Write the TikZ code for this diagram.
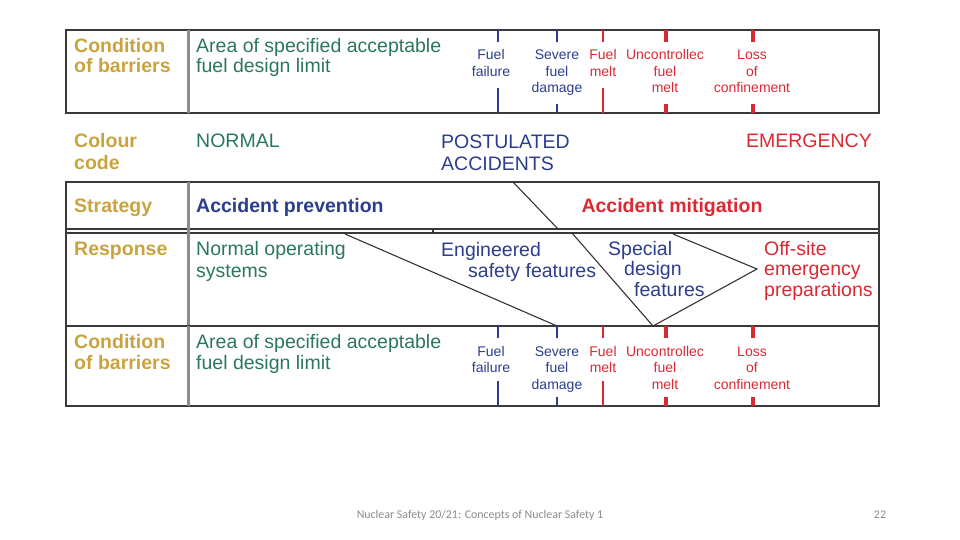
\documentclass[tikz,border=0pt]{standalone}
\usepackage{fontspec}
\setmainfont{Liberation Sans}
\newfontfamily\footfont{Carlito}
\usetikzlibrary{positioning}
\definecolor{nsgold}{HTML}{C9A43E}
\definecolor{nsgreen}{HTML}{2A785A}
\definecolor{nsblue}{HTML}{2B3D8C}
\definecolor{nsred}{HTML}{DC2832}
\definecolor{nsframe}{HTML}{3A3A3A}
\definecolor{nsdivider}{HTML}{8C8C8C}
\definecolor{nsfoot}{HTML}{8A8A8A}
\tikzset{
  rowlabel/.style={anchor=base west,inner sep=0pt,align=left,text=nsgold,font=\bfseries\fontsize{19.5}{20.5}\selectfont},
  celltext/.style={anchor=base west,inner sep=0pt,align=left,font=\fontsize{19.5}{20.5}\selectfont},
  boldtext/.style={celltext,font=\bfseries\fontsize{19.5}{20.5}\selectfont},
  ticklabel/.style={anchor=base,inner sep=0pt,align=center,font=\fontsize{14}{16.5}\selectfont},
  frame/.style={draw=nsframe,line width=1.8pt},
  thinrule/.style={draw=nsframe,line width=1.4pt},
  divider/.style={draw=nsdivider,line width=3pt},
  wedge/.style={draw=black!80,line width=1.1pt},
  footer/.style={inner sep=0pt,text=nsfoot,font=\footfont\fontsize{11.9}{13}\selectfont}
}
\begin{document}
\begin{tikzpicture}[x=1pt,y=-1pt]
\useasboundingbox (0,0) rectangle (960,540);
\draw[frame] (66,182) rectangle (879,406);
\draw[thinrule] (66,229) -- (879,229);
\draw[thinrule] (66,233) -- (879,233);
\draw[thinrule] (433,229) -- (433,233);
\draw[thinrule] (66,326) -- (879,326);
\draw[divider] (188,182) -- (188,406);
\foreach \t/\b/\n in {30/113/top,326/406/bot}{
  \draw[frame] (66,\t) rectangle (879,\b);
  \draw[divider] (188,\t) -- (188,\b);
  \foreach \x/\col/\w/\lo in {498/nsblue/1.5/25,557/nsblue/1.5/9,603/nsred/2.5/25,666/nsred/4/9,753/nsred/4/9}{
    \draw[draw=\col,line width=\w pt] (\x,\t) -- (\x,\t+12);
    \draw[draw=\col,line width=\w pt] (\x,\b-\lo) -- (\x,\b);
  }
  \node[rowlabel] (cond\n) at (74,\t+43) {Condition\\of barriers};
  \node[celltext,text=nsgreen] (area\n) at (196,\t+43) {Area of specified acceptable\\fuel design limit};
  \node[ticklabel,text=nsblue] (failure\n) at (491,\t+46.5) {Fuel\\failure};
  \node[ticklabel,text=nsblue] (damage\n) at (557,\t+63) {Severe\\fuel\\damage};
  \node[ticklabel,text=nsred] (melt\n) at (603,\t+46.5) {Fuel\\melt};
  \node[ticklabel,text=nsred] (uncmelt\n) at (665,\t+63) {Uncontrollec\\fuel\\melt};
  \node[ticklabel,text=nsred] (confine\n) at (752,\t+63) {Loss\\of\\confinement};
}
\node[rowlabel] (colour) at (74,170) {Colour\\[1.5pt]code};
\node[celltext,text=nsgreen] (normal) at (196,148) {NORMAL};
\node[celltext,text=nsblue] (postulated) at (441,171) {POSTULATED\\[1.5pt]ACCIDENTS};
\node[celltext,anchor=base east,text=nsred] (emergency) at (872,148) {EMERGENCY};
\node[rowlabel] (strategy) at (74,212) {Strategy};
\node[boldtext,text=nsblue] (prevention) at (196,212) {Accident prevention};
\node[boldtext,anchor=base,text=nsred] (mitigation) at (672,212) {Accident mitigation};
\node[rowlabel] (response) at (74,255) {Response};
\node[celltext,text=nsgreen] (normalsys) at (196,277) {Normal operating\\[1.5pt]systems};
\node[celltext,text=nsblue] (engineered) at (441,277) {Engineered\\\hspace*{27pt}safety features};
\node[celltext,text=nsblue] (special) at (608,296) {Special\\\hspace*{16pt}design\\\hspace*{26pt}features};
\node[celltext,text=nsred] (offsite) at (764,296) {Off-site\\emergency\\preparations};
\coordinate (splittop) at (513,182);
\coordinate (splitmid) at (558,229);
\coordinate (splitlow) at (572,233);
\coordinate (specialtip) at (653,326);
\coordinate (normaltop) at (345,234);
\coordinate (engtip) at (557,326);
\coordinate (offtop) at (673,234);
\coordinate (offtip) at (757,269);
\draw[wedge] (splittop) -- (splitmid);
\draw[wedge] (splitlow) -- (specialtip);
\draw[wedge] (normaltop) -- (engtip);
\draw[wedge] (offtop) -- (offtip) -- (specialtip);
\node[footer] (foottext) at (480,515) {Nuclear Safety 20/21: Concepts of Nuclear Safety 1};
\node[footer] (pagenum) at (880,515) {22};
\end{tikzpicture}
\end{document}
